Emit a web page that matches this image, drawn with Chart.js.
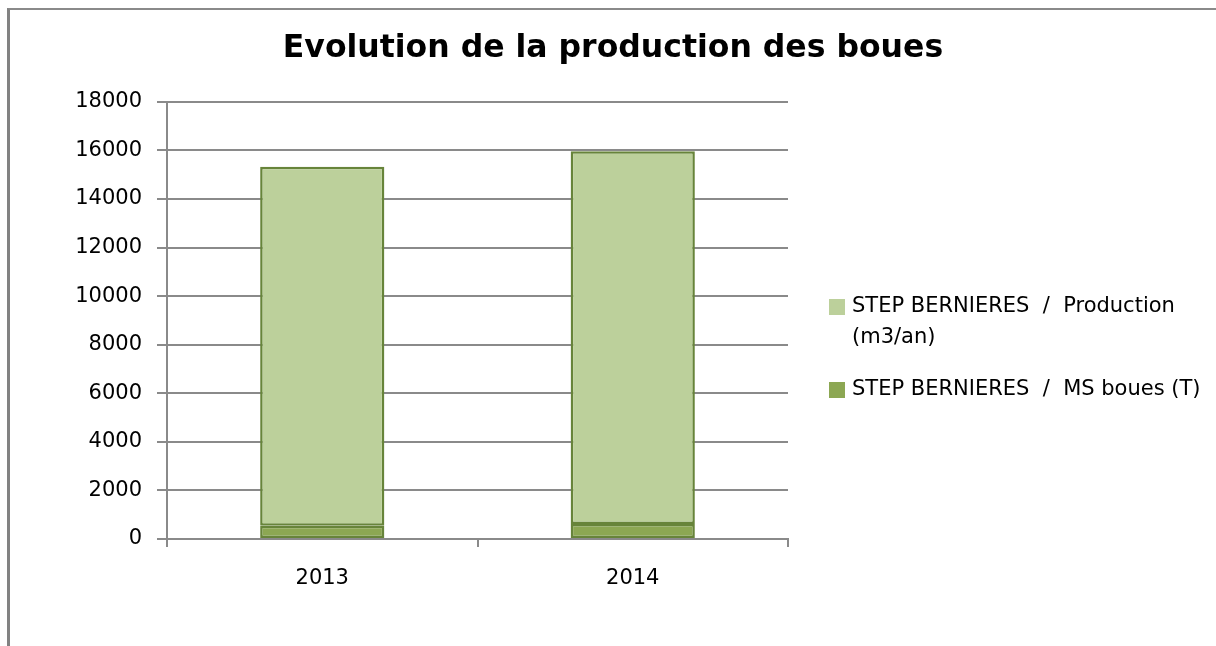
<!DOCTYPE html>
<html>
<head>
<meta charset="utf-8">
<script src="https://cdn.jsdelivr.net/npm/chart.js@4.4.1/dist/chart.umd.min.js"></script>
<style>
  body { margin: 0; background: #fff; }
  #wrap { position: relative; width: 1216px; height: 646px; }
  #frame {
    position: absolute; left: 7px; top: 8px; right: 0; bottom: 0;
    border-left: 3px solid #828282; border-top: 2px solid #8a8a8a;
    pointer-events: none;
  }
</style>
</head>
<body>
<div id="wrap">
  <canvas id="myChart" width="1216" height="646"></canvas>
  <div id="frame"></div>
</div>
<script>
const years = ['2013', '2014'];
const msBoues = [550, 615];
const production = [14780, 15350];
const yTicks = [0, 2000, 4000, 6000, 8000, 10000, 12000, 14000, 16000, 18000];

const gridGray = '#8a8a8a';
const font = 'DejaVu Sans';

// legend drawn by hand so the first label can wrap like the original
const sideLegend = {
  id: 'sideLegend',
  afterDraw(chart) {
    const ctx = chart.ctx;
    const items = [
      { ds: chart.data.datasets[1], lines: ['STEP BERNIERES  /  Production', '(m3/an)'], y: 307 },
      { ds: chart.data.datasets[0], lines: ['STEP BERNIERES  /  MS boues (T)'], y: 390 }
    ];
    ctx.save();
    ctx.font = '21px "' + font + '"';
    ctx.textBaseline = 'middle';
    items.forEach(it => {
      ctx.fillStyle = it.ds.backgroundColor;
      ctx.fillRect(829, it.y - 8, 16, 16);
      ctx.fillStyle = '#000';
      it.lines.forEach((l, i) => ctx.fillText(l, 852, it.y + i * 31));
    });
    ctx.restore();
  }
};

new Chart(document.getElementById('myChart'), {
  type: 'bar',
  plugins: [sideLegend],
  data: {
    labels: years,
    datasets: [
      {
        label: 'STEP BERNIERES / MS boues (T)',
        data: msBoues,
        backgroundColor: '#8ca753',
        borderColor: '#67843a',
        borderWidth: 2.5,
        borderSkipped: false
      },
      {
        label: 'STEP BERNIERES / Production (m3/an)',
        data: production,
        backgroundColor: '#bcd09b',
        borderColor: '#67843a',
        borderWidth: 2.5,
        borderSkipped: false
      }
    ]
  },
  options: {
    responsive: false,
    animation: false,
    layout: { padding: { left: 10, right: 0, top: 0, bottom: 0 } },
    datasets: { bar: { categoryPercentage: 1, barPercentage: 0.4 } },
    plugins: {
      legend: { display: false },
      tooltip: { enabled: false },
      title: {
        display: true,
        text: 'Evolution de la production des boues',
        color: '#000',
        font: { family: font, size: 31.5, weight: 'bold' },
        padding: { top: 30, bottom: 34 }
      }
    },
    scales: {
      x: {
        stacked: true,
        afterFit: s => { s.height = 107; },
        grid: { offset: true, drawOnChartArea: false, color: gridGray, lineWidth: 2, tickLength: 8 },
        border: { color: gridGray, width: 2 },
        ticks: { color: '#000', padding: 19, font: { family: font, size: 21 } }
      },
      y: {
        stacked: true,
        min: 0,
        max: 18000,
        afterFit: s => { s.width = 157; },
        afterBuildTicks: s => { s.ticks = yTicks.map(v => ({ value: v })); },
        grid: { color: gridGray, lineWidth: 2, tickLength: 10 },
        border: { color: gridGray, width: 2 },
        ticks: { color: '#000', padding: 15, font: { family: font, size: 21 }, callback: v => String(v) }
      },
      // empty axis on the right that only keeps room for the legend
      side: {
        position: 'right',
        min: 0,
        max: 1,
        afterFit: s => { s.width = 428; },
        grid: { display: false },
        border: { display: false },
        ticks: { display: false }
      }
    }
  }
});
</script>
</body>
</html>
